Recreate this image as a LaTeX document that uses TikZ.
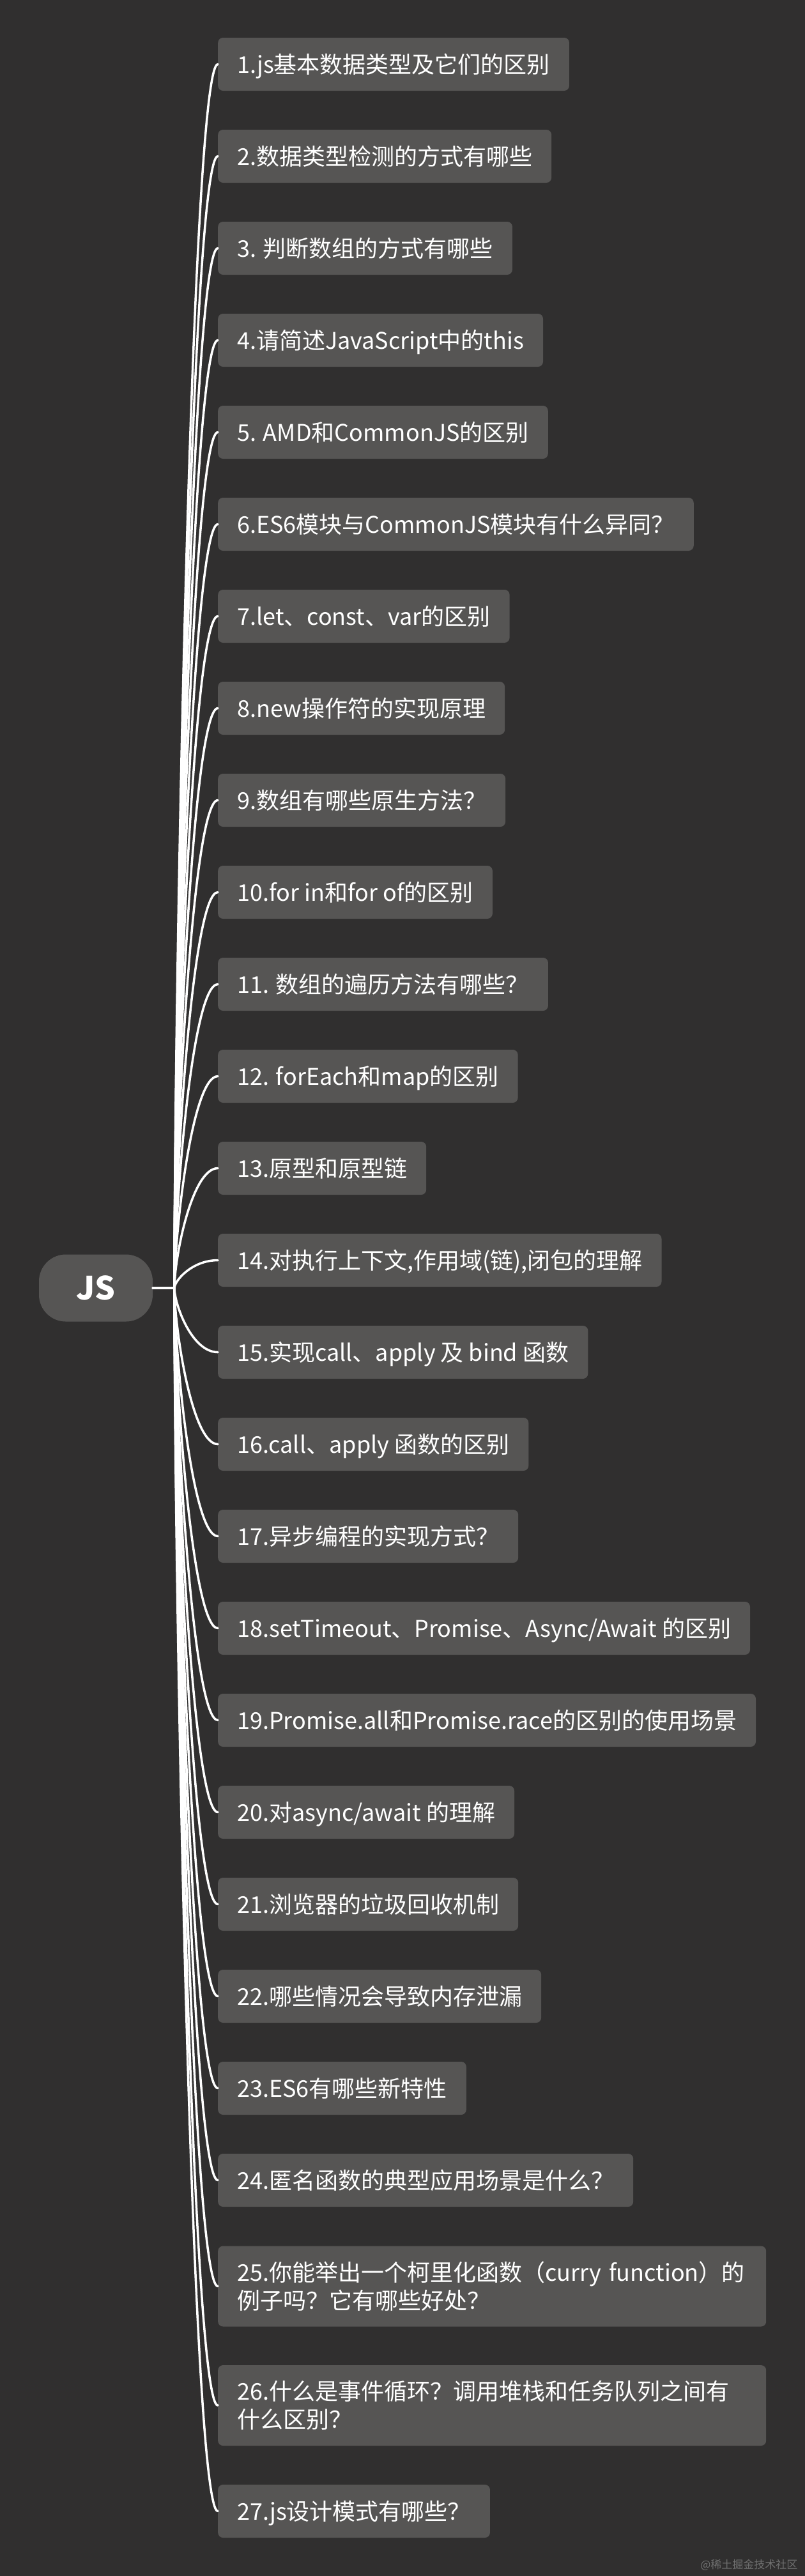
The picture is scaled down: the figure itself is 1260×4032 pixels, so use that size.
\documentclass[tikz,border=0pt]{standalone}
\usepackage{fontspec}
\setmainfont{Noto Sans CJK SC}
\usepackage{tikz}
\usetikzlibrary{calc}
\definecolor{canvas}{RGB}{48,47,47}
\definecolor{topicgray}{RGB}{86,85,84}
\definecolor{markgray}{RGB}{112,112,112}

\begin{document}
\begin{tikzpicture}[x=1pt,y=-1pt]
      \newcommand{\twig}[1]{.. controls ($(hub)!0.25!(hub |- #1.west)$) and ($(#1.west)+(-41,0)$) .. (#1.west)}
      \tikzstyle{branch} = [line width=3.5pt,line cap=round,draw=white]
      \tikzstyle{root} = [
        fill=topicgray,
        rounded corners=42pt,
        minimum width=178pt,
        minimum height=105pt,
        text=white,
        font=\fontsize{50}{60}\selectfont\bfseries,
      ]
      \tikzstyle{topic} = [
        fill=topicgray,
        rounded corners=8pt,
        anchor=west,
        inner xsep=30pt,
        inner ysep=0pt,
        text height=32pt,
        text depth=5pt,
        minimum height=83pt,
        text=white,
        font=\fontsize{36}{44}\selectfont,
      ]
      \tikzstyle{longtopic} = [
        fill=topicgray,
        rounded corners=8pt,
        anchor=west,
        inner xsep=30pt,
        inner ysep=0pt,
        text width=798pt,
        align=left,
        minimum height=126pt,
        text=white,
        font=\fontsize{36}{44}\selectfont,
      ]

      \fill[canvas] (0,0) rectangle (1260,4032);

      \node[root] (js) at (150,2016) {JS};
      \coordinate (hub) at (273,2016);

      \node[topic] (t1) at (341,100.5) {1.js基本数据类型及它们的区别};
      \node[topic] (t2) at (341,244.5) {2.数据类型检测的方式有哪些};
      \node[topic] (t3) at (341,388.5) {3. 判断数组的方式有哪些};
      \node[topic] (t4) at (341,532.5) {4.请简述JavaScript中的this};
      \node[topic] (t5) at (341,676.5) {5. AMD和CommonJS的区别};
      \node[topic] (t6) at (341,820.5) {6.ES6模块与CommonJS模块有什么异同？};
      \node[topic] (t7) at (341,964.5) {7.let、const、var的区别};
      \node[topic] (t8) at (341,1108.5) {8.new操作符的实现原理};
      \node[topic] (t9) at (341,1252.5) {9.数组有哪些原生方法？};
      \node[topic] (t10) at (341,1396.5) {10.for in和for of的区别};
      \node[topic] (t11) at (341,1540.5) {11. 数组的遍历方法有哪些？};
      \node[topic] (t12) at (341,1684.5) {12. forEach和map的区别};
      \node[topic] (t13) at (341,1828.5) {13.原型和原型链};
      \node[topic] (t14) at (341,1972.5) {14.对执行上下文,作用域(链),闭包的理解};
      \node[topic] (t15) at (341,2116.5) {15.实现call、apply 及 bind 函数};
      \node[topic] (t16) at (341,2260.5) {16.call、apply 函数的区别};
      \node[topic] (t17) at (341,2404.5) {17.异步编程的实现方式？};
      \node[topic] (t18) at (341,2548.5) {18.setTimeout、Promise、Async/Await 的区别};
      \node[topic] (t19) at (341,2692.5) {19.Promise.all和Promise.race的区别的使用场景};
      \node[topic] (t20) at (341,2836.5) {20.对async/await 的理解};
      \node[topic] (t21) at (341,2980.5) {21.浏览器的垃圾回收机制};
      \node[topic] (t22) at (341,3124.5) {22.哪些情况会导致内存泄漏};
      \node[topic] (t23) at (341,3268.5) {23.ES6有哪些新特性};
      \node[topic] (t24) at (341,3412.5) {24.匿名函数的典型应用场景是什么？};
      \node[longtopic] (t25) at (341,3578.5) {25.你能举出一个柯里化函数（curry function）的\\例子吗？它有哪些好处？};
      \node[longtopic] (t26) at (341,3765) {26.什么是事件循环？调用堆栈和任务队列之间有\\什么区别？};
      \node[topic] (t27) at (341,3930.5) {27.js设计模式有哪些？};

      \node[anchor=east,text=markgray,font=\fontsize{17}{20}\selectfont] (mark) at (1252,4015) {@稀土掘金技术社区};

      \draw[branch] (js.east)--(hub);
      \draw[branch] (hub) \twig{t1};
      \draw[branch] (hub) \twig{t2};
      \draw[branch] (hub) \twig{t3};
      \draw[branch] (hub) \twig{t4};
      \draw[branch] (hub) \twig{t5};
      \draw[branch] (hub) \twig{t6};
      \draw[branch] (hub) \twig{t7};
      \draw[branch] (hub) \twig{t8};
      \draw[branch] (hub) \twig{t9};
      \draw[branch] (hub) \twig{t10};
      \draw[branch] (hub) \twig{t11};
      \draw[branch] (hub) \twig{t12};
      \draw[branch] (hub) \twig{t13};
      \draw[branch] (hub) \twig{t14};
      \draw[branch] (hub) \twig{t15};
      \draw[branch] (hub) \twig{t16};
      \draw[branch] (hub) \twig{t17};
      \draw[branch] (hub) \twig{t18};
      \draw[branch] (hub) \twig{t19};
      \draw[branch] (hub) \twig{t20};
      \draw[branch] (hub) \twig{t21};
      \draw[branch] (hub) \twig{t22};
      \draw[branch] (hub) \twig{t23};
      \draw[branch] (hub) \twig{t24};
      \draw[branch] (hub) \twig{t25};
      \draw[branch] (hub) \twig{t26};
      \draw[branch] (hub) \twig{t27};
    \end{tikzpicture}
\end{document}
